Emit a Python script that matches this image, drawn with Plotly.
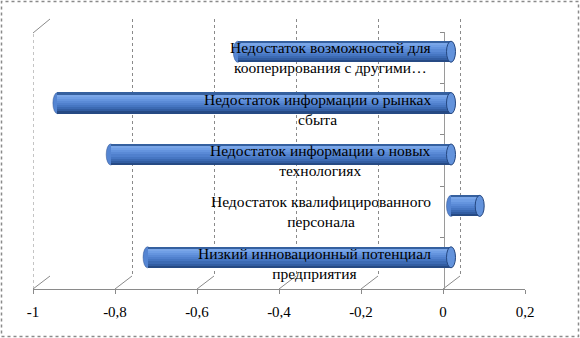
import plotly.graph_objects as go

# ---- data ----
categories = [
    "Низкий инновационный потенциал<br>предприятия",
    "Недостаток квалифицированного<br>персонала",
    "Недостаток информации о новых<br>технологиях",
    "Недостаток информации о рынках<br>сбыта",
    "Недостаток возможностей для<br>кооперирования с другими…",
]
values = [-0.74, 0.07, -0.83, -0.96, -0.52]
tick_vals = [-1, -0.8, -0.6, -0.4, -0.2, 0, 0.2]
tick_text = ["-1", "-0,8", "-0,6", "-0,4", "-0,2", "0", "0,2"]

W, H = 580, 338
def fx(p): return p / W
def fy(p): return 1 - p / H

FONT = "Liberation Serif"
GRID = "#8a8a8a"
XR = [-1, 0.2]
PX_PER_UNIT = (525 - 33) / 1.2
DEPTH = 17 / PX_PER_UNIT  # 3D depth offset in data units

pos = list(range(len(categories)))

fig = go.Figure()

fig.add_trace(go.Scatter(x=[-1], y=[0], xaxis="x2", yaxis="y2", mode="markers",
                         marker=dict(opacity=0), hoverinfo="skip", showlegend=False))
fig.add_trace(go.Scatter(x=[-1], y=[0], xaxis="x", yaxis="y", mode="markers",
                         marker=dict(opacity=0), hoverinfo="skip", showlegend=False))

thick = 0.41
shades = ["#35609f", "#7aa6e8", "#6f9ee5", "#6494de", "#5a8ad6", "#5080cd",
          "#4676c2", "#3c6ab3", "#325da2", "#264a84"]
n = len(shades)
bw = thick / n
for i, c in enumerate(shades):
    off = thick / 2 - (i + 1) * bw
    fig.add_trace(go.Bar(x=values, y=pos, orientation="h", xaxis="x3", yaxis="y3",
                         width=[bw * 1.05] * len(pos), offset=[off] * len(pos),
                         marker=dict(color=c, line=dict(width=0)),
                         hoverinfo="skip", showlegend=False))

shapes = []
cap = 4.5 / PX_PER_UNIT
for p, v in zip(pos, values):
    lo, hi = min(v, 0), max(v, 0)
    shapes.append(dict(type="circle", xref="x3", yref="y3", layer="below",
                       x0=lo - cap, x1=lo + cap, y0=p - thick / 2, y1=p + thick / 2,
                       fillcolor="#5585d2", line=dict(color="#2a4f8e", width=0.5)))
    shapes.append(dict(type="circle", xref="x3", yref="y3", layer="above",
                       x0=hi - cap, x1=hi + cap, y0=p - thick / 2, y1=p + thick / 2,
                       fillcolor="#6393dc", line=dict(color="#24467f", width=1)))

for t in tick_vals:
    shapes.append(dict(type="line", xref="x", yref="paper", x0=t, x1=t + DEPTH,
                       y0=fy(289), y1=fy(276), line=dict(color=GRID, width=1), layer="below"))
shapes.append(dict(type="line", xref="x", yref="paper", x0=-1, x1=-1,
                   y0=fy(289), y1=fy(33), line=dict(color=GRID, width=1, dash="dot")))
shapes.append(dict(type="line", xref="x", yref="paper", x0=-1, x1=-1 + DEPTH,
                   y0=fy(33), y1=fy(19), line=dict(color=GRID, width=1)))
shapes.append(dict(type="rect", xref="paper", yref="paper", x0=fx(1.5), x1=fx(578.5),
                   y0=fy(336.5), y1=fy(1.5), line=dict(color="#8a8a8a", width=1.5, dash="dot")))

annotations = []
for p, c in zip(pos, categories):
    annotations.append(dict(text=c, xref="paper", yref="y", x=fx(433), y=p,
                            xanchor="right", yanchor="middle", align="center",
                            showarrow=False, font=dict(family=FONT, size=15.5, color="black")))

fig.update_layout(
    width=W, height=H, margin=dict(l=0, r=0, t=0, b=0, autoexpand=False),
    paper_bgcolor="white", plot_bgcolor="rgba(0,0,0,0)",
    barmode="overlay", bargap=0, showlegend=False,
    shapes=shapes, annotations=annotations,
    xaxis=dict(domain=[fx(33), fx(525)], range=XR, anchor="y", automargin=False,
               tickvals=tick_vals, ticktext=tick_text, ticks="outside", ticklen=4,
               ticklabelstandoff=5,
               tickcolor=GRID, showline=True, linecolor=GRID, linewidth=1,
               showgrid=False, zeroline=False,
               tickfont=dict(family=FONT, size=15, color="black")),
    yaxis=dict(domain=[fy(289), fy(32)], range=[-0.5, 4.5], anchor="free", automargin=False,
               position=fx(444), showline=True, linecolor="#9a9a9a", linewidth=1,
               tickvals=[-0.5, 0.5, 1.5, 2.5, 3.5, 4.5], ticks="outside", ticklen=4,
               tickcolor=GRID, showticklabels=False, showgrid=False, zeroline=False),
    xaxis2=dict(domain=[fx(50), fx(542)], range=XR, anchor="y2", automargin=False,
                tickvals=tick_vals, showticklabels=False, ticks="",
                showgrid=True, gridcolor=GRID, gridwidth=1, griddash="dot",
                showline=False, zeroline=False),
    yaxis2=dict(domain=[fy(276), fy(19)], range=[0, 1], visible=False),
    xaxis3=dict(domain=[fx(41), fx(533)], range=XR, anchor="y3", visible=False),
    yaxis3=dict(domain=[fy(283), fy(26)], range=[-0.5, 4.5], visible=False),
)

fig.write_html("out.html")
